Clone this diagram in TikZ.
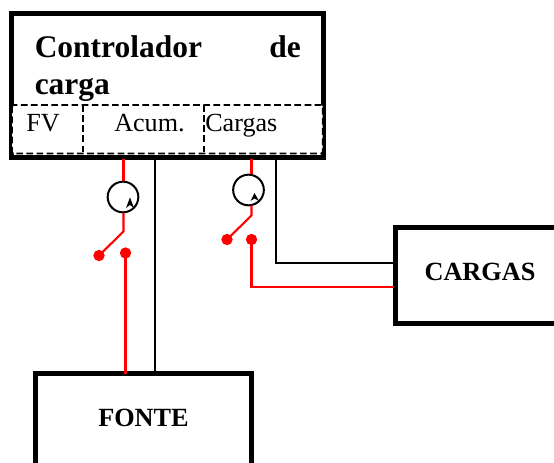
\documentclass[tikz,border=0pt]{standalone}
\usepackage{fontspec}
\setmainfont{Liberation Serif}
\tikzset{
  heavybox/.style={draw=black,line width=4pt,fill=white,rectangle,anchor=north west,inner sep=0pt},
  redwire/.style={draw={rgb,255:red,255;green,0;blue,0},line width=1.6pt},
  blackwire/.style={draw=black,line width=1.5pt},
  meter/.style={circle,draw=black,line width=1.5pt,minimum size=23pt,inner sep=0pt},
  contact/.style={circle,fill={rgb,255:red,255;green,0;blue,0},minimum size=8.5pt,inner sep=0pt},
  dashbox/.style={draw=black,line width=1.3pt,dash pattern=on 5pt off 2.6pt},
  big/.style={font=\fontsize{23.6}{24}\selectfont\bfseries,inner sep=0pt,anchor=base west},
  small/.style={font=\fontsize{19.6}{20}\selectfont,inner sep=0pt,anchor=base west},
  bold/.style={font=\fontsize{19.7}{20}\selectfont\bfseries,inner sep=0pt,anchor=base}
}
\begin{document}
\begin{tikzpicture}[x=0.75pt,y=-0.75pt]
\useasboundingbox (0,0) rectangle (554,463);
\clip (0,0) rectangle (554,463);
% boxes
\node[heavybox,minimum width=233.8pt,minimum height=108pt] (ctrl) at (9,10.7) {};
\node[heavybox,minimum width=170pt,minimum height=71.75pt] (cargas) at (392.7,225) {};
\node[heavybox,minimum width=162.1pt,minimum height=90pt] (fonte) at (32.8,370.7) {};
% dashed compartments
\draw[dashbox,fill=white,rounded corners=1pt] (12,105) rectangle (322.7,153.5);
\draw[dashbox] (83,105) -- (83,153.5);
\draw[dashbox] (204,105) -- (204,153.5);
% labels
\node[big] (t1) at (34.5,57.5) {Controlador};
\node[big] (t2) at (269,57.5) {de};
\node[big] (t3) at (34.5,94.5) {carga};
\node[small] (fv) at (26,132) {FV};
\node[small] (acum) at (114,132) {Acum.};
\node[small] (carg) at (205,132) {Cargas};
\node[bold] (tc) at (480,281) {CARGAS};
\node[bold] (tf) at (143.5,427) {FONTE};
% meters and contacts
\node[meter] (m1) at (123,197) {};
\node[meter] (m2) at (248.5,190) {};
\node[contact] (c1a) at (99,255.5) {};
\node[contact] (c1b) at (125.5,253) {};
\node[contact] (c2a) at (227,239.5) {};
\node[contact] (c2b) at (251.5,239.5) {};
\coordinate (k1) at (123.5,231.5);
\coordinate (k2) at (251.5,215.5);
\coordinate (c1top) at (123.5,159.5);
\coordinate (c2top) at (251.5,159.5);
\coordinate (b1top) at (155,159.5);
\coordinate (b2top) at (275.5,159.5);
\coordinate (f1) at (125.5,374);
\coordinate (f2) at (155,372);
\coordinate (bendr) at (251.5,287);
\coordinate (bendb) at (275.5,263.5);
\coordinate (cr) at (393.5,287);
\coordinate (cb) at (393.5,263.5);
% wires
\draw[redwire] (c1top) -- (123.5,181);
\draw[redwire] (123.5,213) -- (k1) -- (c1a.center);
\draw[redwire] (c1b.center) -- (f1);
\draw[blackwire] (b1top) -- (f2);
\draw[redwire] (c2top) -- (251.5,174.5);
\draw[redwire] (251.5,205.5) -- (k2) -- (c2a.center);
\draw[redwire] (c2b.center) -- (bendr) -- (cr);
\draw[blackwire] (b2top) -- (bendb) -- (cb);
% meter needles
\fill[black] (126,208) -- (130,197.5) -- (134,208) -- (130,205) -- cycle;
\fill[black] (250.5,201) -- (254.5,193) -- (259,201) -- (254.5,198.5) -- cycle;
\end{tikzpicture}
\end{document}
